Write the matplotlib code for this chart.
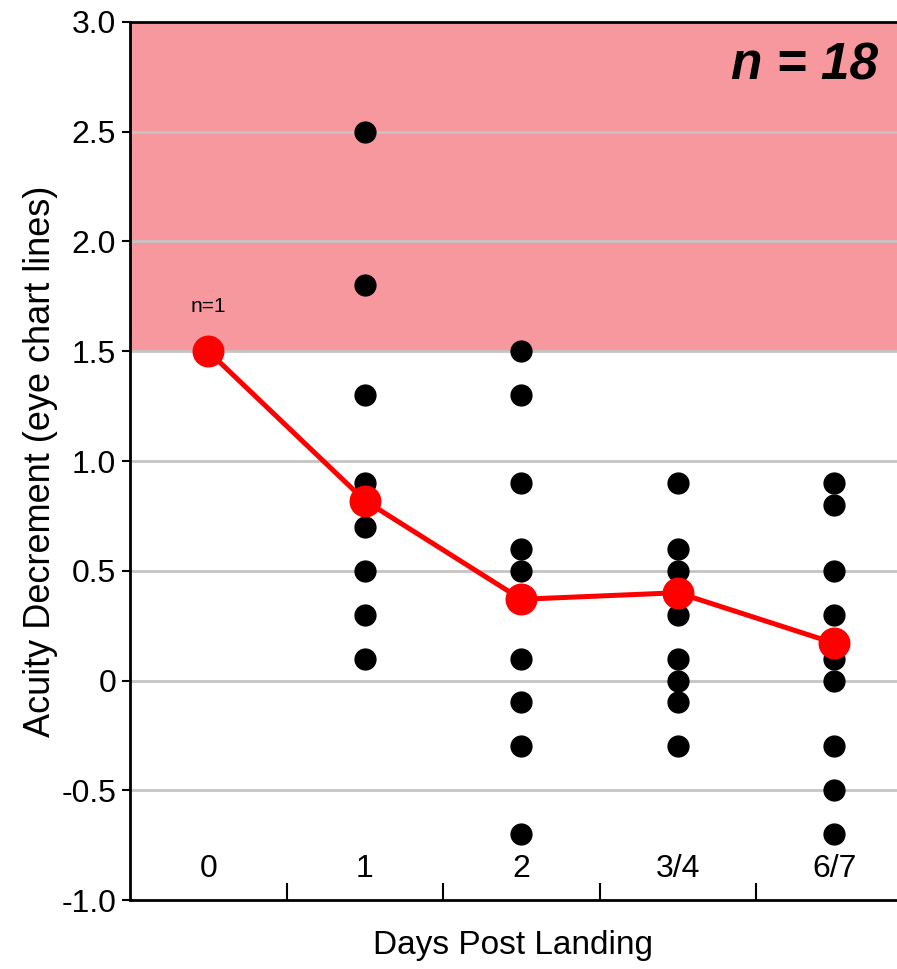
import matplotlib
matplotlib.use("Agg")
import matplotlib.pyplot as plt

plt.rcParams['font.family'] = ['Liberation Sans', 'DejaVu Sans']

days = ["0", "1", "2", "3/4", "6/7"]

# individual subject decrements per day
day1_vals = [2.5, 1.8, 1.3, 0.9, 0.7, 0.5, 0.3, 0.1]
day2_vals = [1.5, 1.3, 0.9, 0.6, 0.5, 0.1, -0.1, -0.3, -0.7]
day34_vals = [0.9, 0.6, 0.5, 0.3, 0.1, 0.0, -0.1, -0.3]
day67_vals = [0.9, 0.8, 0.5, 0.3, 0.1, 0.0, -0.3, -0.5, -0.7]
scatter_sets = [(1, day1_vals), (2, day2_vals), (3, day34_vals), (4, day67_vals)]

# mean per day
mean_vals = [1.5, 0.82, 0.37, 0.40, 0.17]

yticks = [3.0, 2.5, 2.0, 1.5, 1.0, 0.5, 0, -0.5, -1.0]
ytick_labels = ["3.0", "2.5", "2.0", "1.5", "1.0", "0.5", "0", "-0.5", "-1.0"]

fig = plt.figure(figsize=(8.97, 9.69), dpi=100)
ax = fig.add_axes([0.1449, 0.0712, 0.8551, 0.9061])
ax.set_xlim(-0.5, 4.4)
ax.set_ylim(-1.0, 3.0)

ax.axhspan(1.5, 3.0, color="#f7989f", zorder=0, lw=0)
for y in [2.5, 2.0, 1.5, 1.0, 0.5, 0, -0.5]:
    ax.axhline(y, color="#c4c4c4", lw=2, zorder=1)

for xi, vals in scatter_sets:
    ax.plot([xi] * len(vals), vals, "o", color="black", ms=15, mec="black", zorder=3)

ax.plot(range(len(mean_vals)), mean_vals, "-o", color="#ff0000", lw=3.6, ms=22, zorder=4)
ax.text(0, 1.66, "n=1", ha="center", va="bottom", fontsize=15)

ax.text(0.975, 0.978, "n = 18", transform=ax.transAxes, ha="right", va="top",
        fontsize=37, fontweight="bold", fontstyle="italic")

for i, d in enumerate(days):
    ax.text(i, -0.86, d, ha="center", va="center", fontsize=23)

ax.set_yticks(yticks)
ax.set_yticklabels(ytick_labels, fontsize=23)
ax.tick_params(axis="y", length=6, width=1.5, pad=4)
ax.set_xticks([0.5, 1.5, 2.5, 3.5])
ax.set_xticklabels([])
ax.tick_params(axis="x", direction="in", length=12, width=1.5)

for side in ["left", "bottom", "top"]:
    ax.spines[side].set_linewidth(2)
ax.spines["right"].set_visible(False)

ax.set_ylabel("Acuity Decrement (eye chart lines)", fontsize=26, labelpad=2)
ax.set_xlabel("Days Post Landing", fontsize=24, labelpad=18)

fig.savefig("out.png", dpi=100)
